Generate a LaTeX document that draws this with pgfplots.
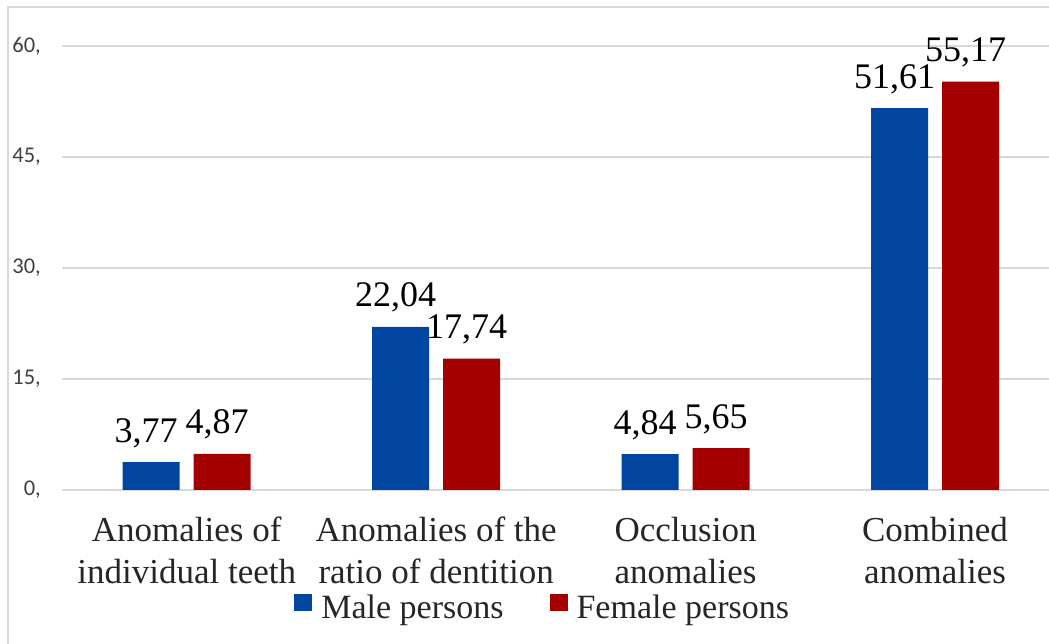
\documentclass[border=0pt]{standalone}
\usepackage{pgfplots}
\pgfplotsset{compat=1.18}
\usepackage{fontspec}
\setmainfont{Liberation Serif}
\newfontfamily\tickfont{Carlito}
\definecolor{mblue}{RGB}{0,70,160}
\definecolor{mred}{RGB}{165,0,0}
\definecolor{gridc}{RGB}{217,217,217}
\definecolor{txt}{RGB}{38,38,38}
\definecolor{ticktxt}{RGB}{64,64,64}
\begin{document}
\begin{tikzpicture}[x=1pt,y=1pt]
\useasboundingbox (0,0) rectangle (1049,644);
\fill[white] (0,0) rectangle (1049,644);
\draw[gridc, line width=2pt] (8,0) -- (8,637) -- (1049,637);
\begin{axis}[
  at={(62pt,154pt)}, anchor=south west,
  width=987pt, height=444pt, scale only axis,
  xmin=-0.5, xmax=3.457, ymin=0, ymax=60,
  enlargelimits=false, clip=false,
  ybar=14pt, bar width=57pt,
  /pgf/number format/assume math mode=true,
  ytick={0,15,30,45,60},
  yticklabel={\pgfmathprintnumber{\tick},},
  ymajorgrids, major grid style={gridc, line width=1.5pt},
  axis line style={draw=none}, major tick length=0pt,
  xtick={0,1,2,3},
  xticklabels={{Anomalies of\\individual teeth},{Anomalies of the\\ratio of dentition},{Occlusion\\anomalies},{Combined\\anomalies}},
  x tick label style={align=center, font=\fontsize{35}{42}\selectfont, text=txt, inner sep=0pt, yshift=-27pt},
  y tick label style={font=\tickfont\fontsize{22.5}{26}\selectfont, text=ticktxt, inner sep=0pt, xshift=-21pt},
  nodes near coords={\pgfmathprintnumber[fixed,fixed zerofill,precision=2,use comma]{\pgfplotspointmeta}},
  nodes near coords style={font=\fontsize{36}{40}\selectfont, text=black, anchor=base, inner sep=0pt, yshift=20pt, xshift=-5pt},
  legend style={at={(0.487,-0.297)}, anchor=south, draw=none, fill=none, legend columns=2, font=\fontsize{34}{40}\selectfont, text=txt, inner sep=0pt, /tikz/every even column/.append style={column sep=44pt}},
  legend cell align=left,
]
\addplot[fill=mblue, draw=none, legend image code/.code={\fill[mblue] (0pt,-4pt) rectangle (18pt,13pt); \path (25pt,0pt);}] coordinates {(0,3.77) (1,22.04) (2,4.84) (3,51.61)};
\addplot[fill=mred, draw=none, legend image code/.code={\fill[mred] (0pt,-4pt) rectangle (18pt,13pt); \path (25pt,0pt);}] coordinates {(0,4.87) (1,17.74) (2,5.65) (3,55.17)};
\legend{Male persons, Female persons}
\end{axis}
\end{tikzpicture}
\end{document}
